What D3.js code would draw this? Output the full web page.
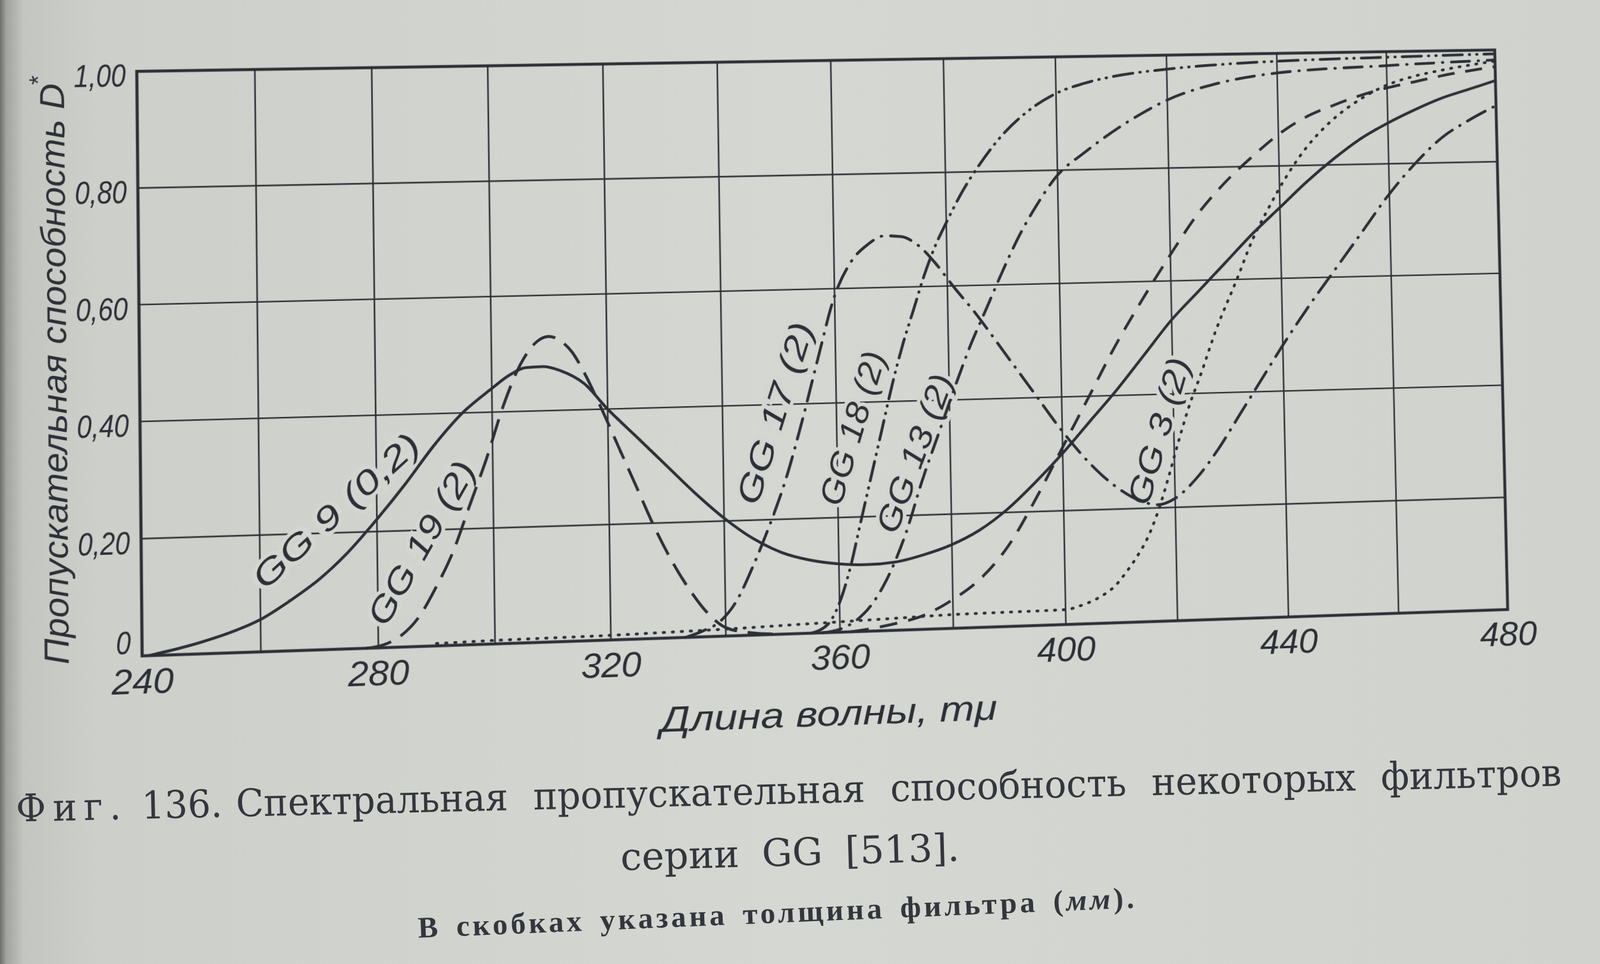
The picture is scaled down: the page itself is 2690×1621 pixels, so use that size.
<!DOCTYPE html>
<html lang="ru">
<head>
<meta charset="utf-8">
<title>Фиг. 136</title>
<script src="https://cdn.jsdelivr.net/npm/d3@7"></script>
<style>
  html, body { margin: 0; padding: 0; background: #d3d6d0; }
  #page { position: relative; width: 2690px; height: 1621px; overflow: hidden; }
  #bg, #chartWrap { position: absolute; left: 0; top: 0; }
  #chartWrap { width: 2690px; height: 1621px; transform-origin: 0 0; }
</style>
</head>
<body>
<div id="page">
  <svg id="bg" width="2690" height="1621"></svg>
  <div id="chartWrap"><svg id="chart" width="2690" height="1621"></svg></div>
</div>
<script>
const ink = "#2c2f36";
const paper = "#d3d6d0";
const sans = "'Liberation Sans', Arial, sans-serif";
const serif = "'DejaVu Serif', 'Liberation Serif', serif";

// axes
const xGrid = d3.range(240, 481, 20);
const xLabels = [240, 280, 320, 360, 400, 440, 480];
const yTicks = [0, 0.2, 0.4, 0.6, 0.8, 1.0];

// GG 9 (0,2) - solid
const gg9Wl = [241, 245, 250, 255, 260, 265, 270, 275, 280, 285, 290, 295, 300, 303, 306, 309, 312, 316, 320, 325,
  330, 335, 340, 345, 350, 355, 360, 365, 370, 375, 380, 385, 390, 395, 400, 405, 410, 415, 420, 425,
  430, 435, 440, 445, 450, 455, 460, 465, 470, 475, 480];
const gg9T = [0, 0.008, 0.02, 0.035, 0.055, 0.085, 0.12, 0.165, 0.22, 0.28, 0.345, 0.40, 0.44, 0.462, 0.475, 0.476, 0.468, 0.445, 0.40, 0.35,
  0.30, 0.25, 0.205, 0.168, 0.142, 0.127, 0.119, 0.116, 0.119, 0.13, 0.146, 0.17, 0.205, 0.25, 0.30, 0.355, 0.41, 0.47, 0.53, 0.58,
  0.63, 0.68, 0.725, 0.77, 0.81, 0.845, 0.872, 0.895, 0.915, 0.93, 0.945];

// GG 19 (2) - long dashes
const gg19Wl = [278, 281, 284, 287, 290, 293, 296, 299, 302, 305, 308, 310, 312, 314, 316, 319, 322, 325, 328, 331, 334, 337, 340, 344, 350];
const gg19T = [0, 0.005, 0.02, 0.05, 0.10, 0.16, 0.24, 0.32, 0.41, 0.48, 0.52, 0.528, 0.52, 0.50, 0.465, 0.40, 0.33, 0.26, 0.19, 0.13, 0.08, 0.04, 0.015, 0.005, 0];

// GG 17 (2) - dash dot
const gg17Wl = [333, 336, 339, 342, 345, 348, 351, 354, 357, 360, 363, 366, 369, 372, 375, 378, 381, 385, 390, 395,
  400, 405, 410, 414, 417, 420, 424, 428, 432, 436, 440, 445, 450, 455, 460, 465, 470, 475, 480];
const gg17T = [0, 0.01, 0.025, 0.06, 0.12, 0.19, 0.27, 0.37, 0.48, 0.585, 0.645, 0.675, 0.69, 0.688, 0.672, 0.64, 0.60, 0.55, 0.48, 0.41,
  0.34, 0.28, 0.235, 0.212, 0.205, 0.215, 0.25, 0.30, 0.36, 0.42, 0.48, 0.55, 0.615, 0.68, 0.745, 0.80, 0.845, 0.875, 0.90];

// GG 18 (2) - dash dot dot
const gg18Wl = [355, 358, 360, 362, 364, 366, 368, 370, 372, 374, 376, 378, 380, 383, 386, 390, 395, 400, 405, 410, 420, 430, 440, 460, 480];
const gg18T = [0, 0.015, 0.05, 0.11, 0.19, 0.27, 0.35, 0.43, 0.50, 0.56, 0.62, 0.67, 0.71, 0.765, 0.81, 0.86, 0.905, 0.935, 0.952, 0.963, 0.975, 0.982, 0.986, 0.99, 0.993];

// GG 13 (2) - dash dot
const gg13Wl = [357, 360, 363, 366, 369, 372, 375, 378, 381, 384, 387, 390, 393, 396, 400, 405, 410, 415, 420, 430, 440, 460, 480];
const gg13T = [0, 0.005, 0.02, 0.05, 0.10, 0.17, 0.26, 0.34, 0.42, 0.495, 0.56, 0.625, 0.685, 0.735, 0.79, 0.83, 0.865, 0.895, 0.92, 0.95, 0.965, 0.975, 0.982];

// unlabelled dashed curve
const dashWl = [362, 366, 370, 375, 380, 385, 390, 395, 400, 405, 410, 415, 420, 425, 430, 435, 440, 445, 450, 455, 460, 465, 470, 480];
const dashT = [0, 0.005, 0.012, 0.025, 0.05, 0.085, 0.14, 0.22, 0.31, 0.40, 0.49, 0.57, 0.645, 0.715, 0.77, 0.815, 0.855, 0.885, 0.905, 0.922, 0.935, 0.945, 0.955, 0.97];

// GG 3 (2) - dotted
const gg3Wl = [290, 300, 310, 320, 330, 340, 350, 360, 370, 380, 390, 400, 403, 406, 409, 411, 413, 415, 417, 419,
  421, 423, 425, 428, 432, 435, 438, 441, 445, 450, 455, 460, 465, 470, 480];
const gg3T = [0.004, 0.006, 0.007, 0.008, 0.01, 0.012, 0.015, 0.018, 0.021, 0.024, 0.025, 0.026, 0.033, 0.045, 0.065, 0.088, 0.115, 0.148, 0.195, 0.255,
  0.32, 0.38, 0.43, 0.51, 0.60, 0.67, 0.725, 0.775, 0.83, 0.88, 0.915, 0.94, 0.955, 0.965, 0.98];

// curve labels, anchored in data units
const labelText = ["GG 9 (0,2)", "GG 19 (2)", "GG 17 (2)", "GG 18 (2)", "GG 13 (2)", "GG 3 (2)"];
const labelWl = [273.1, 287.6, 349.2, 362.8, 373.7, 417.3];
const labelT = [0.238, 0.178, 0.385, 0.355, 0.308, 0.335];

const captionLines = [
  "Спектральная пропускательная способность некоторых фильтров",
  "серии GG [513].",
  "В скобках указана толщина фильтра "
];

const series = [
  { wl: gg9Wl, t: gg9T, dash: null, cap: "butt" },
  { wl: gg19Wl, t: gg19T, dash: "42 18", cap: "butt" },
  { wl: gg17Wl, t: gg17T, dash: "36 15 1 15", cap: "round" },
  { wl: gg18Wl, t: gg18T, dash: "34 12 1 12 1 12", cap: "round" },
  { wl: gg13Wl, t: gg13T, dash: "32 15 1 15", cap: "round" },
  { wl: dashWl, t: dashT, dash: "30 19", cap: "butt" },
  { wl: gg3Wl, t: gg3T, dash: "2 13", cap: "round" }
];

// ---------- paper + caption ----------
const bg = d3.select("#bg");
const lg = bg.append("defs").append("linearGradient").attr("id", "paperGrad");
[[0, "#6c6e6a"], [0.004, "#a2a49f"], [0.015, "#c3c6c0"], [0.06, "#cdd0ca"], [0.5, "#d5d8d2"], [1, "#d0d3cd"]]
  .forEach(([o, c]) => lg.append("stop").attr("offset", o).attr("stop-color", c));
bg.append("rect").attr("width", 2690).attr("height", 1621).attr("fill", "url(#paperGrad)");

// squeeze a caption line to the printed width with a horizontal scale, so its box stays true
function fitLine(sel, cx, cy, angle, width) {
  const w = sel.node().getComputedTextLength();
  sel.attr("transform", `translate(${cx},${cy}) rotate(${angle}) scale(${width / w},1)`);
}

const cap1 = bg.append("text")
  .attr("text-anchor", "middle").attr("dy", "0.35em")
  .attr("font-family", serif).attr("font-size", 64).attr("fill", "#33363c");
cap1.append("tspan").attr("letter-spacing", 12).text("Фиг.");
cap1.append("tspan").attr("word-spacing", 4).text(" 136. ");
cap1.append("tspan").attr("word-spacing", 24).text(captionLines[0]);
fitLine(cap1, 1326, 1329, -1.33, 2600);

const cap2 = bg.append("text")
  .attr("text-anchor", "middle").attr("dy", "0.35em")
  .attr("font-family", serif).attr("font-size", 64).attr("fill", "#33363c")
  .attr("word-spacing", 18)
  .text(captionLines[1]);
fitLine(cap2, 1328, 1433, -1.6, 570);

const cap3 = bg.append("text")
  .attr("text-anchor", "middle").attr("dy", "0.35em")
  .attr("font-family", "'Liberation Serif', serif").attr("font-size", 50).attr("font-weight", "bold").attr("fill", "#33363c")
  .attr("letter-spacing", 5).attr("word-spacing", 8);
cap3.append("tspan").text(captionLines[2]);
cap3.append("tspan").text("(");
cap3.append("tspan").attr("font-style", "italic").text("мм");
cap3.append("tspan").text(").");
fitLine(cap3, 1307, 1534, -2.4, 1210);

// ---------- chart ----------
const chart = d3.select("#chart");
const X0 = 232, X1 = 2530, Y0 = 120, Y1 = 1103;
const x = d3.scaleLinear().domain([240, 480]).range([X0, X1]);
const y = d3.scaleLinear().domain([0, 1]).range([Y1, Y0]);

// grid
chart.append("g")
  .attr("transform", `translate(0,${Y1})`)
  .call(d3.axisBottom(x).tickValues(xGrid).tickSize(-(Y1 - Y0)).tickFormat(""))
  .call(g => g.select(".domain").remove())
  .call(g => g.selectAll("line").attr("stroke", ink).attr("stroke-width", 2.6));
chart.append("g")
  .attr("transform", `translate(${X0},0)`)
  .call(d3.axisLeft(y).tickValues(yTicks).tickSize(-(X1 - X0)).tickFormat(""))
  .call(g => g.select(".domain").remove())
  .call(g => g.selectAll("line").attr("stroke", ink).attr("stroke-width", 2.6));

// tick labels
const xAxis = chart.append("g")
  .attr("transform", `translate(0,${Y1})`)
  .call(d3.axisBottom(x).tickValues(xLabels).tickSize(0).tickPadding(20).tickFormat(d3.format("d")));
xAxis.select(".domain").remove();
xAxis.selectAll("text")
  .attr("font-family", sans).attr("font-style", "italic").attr("font-size", 60).attr("fill", ink);

const fmtY = d => d === 0 ? "0" : d.toFixed(2).replace(".", ",");
const yAxis = chart.append("g")
  .attr("transform", `translate(${X0},0)`)
  .call(d3.axisLeft(y).tickValues(yTicks).tickSize(0).tickPadding(18).tickFormat(fmtY));
yAxis.select(".domain").remove();
yAxis.selectAll("text")
  .attr("font-family", sans).attr("font-style", "italic").attr("font-size", 54).attr("fill", ink)
  .attr("dy", d => d === 0 ? "-0.08em" : "0.46em")
  .each(function () {
    const w = this.getComputedTextLength();
    d3.select(this).attr("textLength", w * 0.8).attr("lengthAdjust", "spacingAndGlyphs");
  });

// axis titles
chart.append("text")
  .attr("transform", `translate(114,${(Y0 + Y1) / 2 + 14}) rotate(-90)`)
  .attr("text-anchor", "middle")
  .attr("font-family", sans).attr("font-style", "italic").attr("font-size", 56).attr("fill", ink)
  .attr("textLength", 975).attr("lengthAdjust", "spacingAndGlyphs")
  .text("Пропускательная способность D");
chart.append("text")
  .attr("transform", "translate(86,132) rotate(-90)")
  .attr("text-anchor", "middle")
  .attr("font-family", sans).attr("font-size", 40).attr("fill", ink)
  .text("*");

chart.append("text")
  .attr("x", x(358)).attr("y", Y1 + 140).attr("dy", "0.3em")
  .attr("text-anchor", "middle")
  .attr("font-family", sans).attr("font-style", "italic").attr("font-size", 62).attr("fill", ink)
  .attr("textLength", 566).attr("lengthAdjust", "spacingAndGlyphs")
  .text("Длина волны, mμ");

// curve labels (drawn before curves, with a paper halo that breaks the grid)
const labelAngle = [-42, -60, -72, -72.6, -69, -72.8];
const labelLen = [350, 305, 322, 272, 285, 262];
chart.append("g").selectAll("text")
  .data(labelText)
  .join("text")
  .attr("transform", (d, i) => `translate(${x(labelWl[i])},${y(labelT[i])}) rotate(${labelAngle[i]})`)
  .attr("text-anchor", "middle").attr("dy", "0.35em")
  .attr("font-family", sans).attr("font-style", "italic").attr("font-size", 56)
  .attr("fill", ink).attr("stroke", paper).attr("stroke-width", 12).attr("paint-order", "stroke")
  .attr("textLength", (d, i) => labelLen[i]).attr("lengthAdjust", "spacingAndGlyphs")
  .text(d => d);

// frame
chart.append("rect")
  .attr("x", X0).attr("y", Y0).attr("width", X1 - X0).attr("height", Y1 - Y0)
  .attr("fill", "none").attr("stroke", ink).attr("stroke-width", 5);

// curves
const line = d3.line().x(d => x(d[0])).y(d => y(d[1])).curve(d3.curveMonotoneX);
chart.append("g").selectAll("path")
  .data(series)
  .join("path")
  .attr("d", s => line(d3.zip(s.wl, s.t)))
  .attr("fill", "none").attr("stroke", ink).attr("stroke-width", 4.8)
  .attr("stroke-dasharray", s => s.dash)
  .attr("stroke-linecap", s => s.cap);

// page is photographed at an angle: map the plot rectangle onto the photographed quadrilateral
function squareToQuad(q) {
  const [p0, p1, p2, p3] = q;
  const dx1 = p1[0] - p2[0], dx2 = p3[0] - p2[0], dx3 = p0[0] - p1[0] + p2[0] - p3[0];
  const dy1 = p1[1] - p2[1], dy2 = p3[1] - p2[1], dy3 = p0[1] - p1[1] + p2[1] - p3[1];
  const den = dx1 * dy2 - dx2 * dy1;
  const g = (dx3 * dy2 - dx2 * dy3) / den;
  const h = (dx1 * dy3 - dx3 * dy1) / den;
  return [
    [p1[0] - p0[0] + g * p1[0], p3[0] - p0[0] + h * p3[0], p0[0]],
    [p1[1] - p0[1] + g * p1[1], p3[1] - p0[1] + h * p3[1], p0[1]],
    [g, h, 1]
  ];
}
const quad = [[230, 120], [2513, 84], [2535, 1025], [239, 1103]];
const Hq = squareToQuad(quad);
const W = X1 - X0, H = Y1 - Y0;
const S = [[1 / W, 0, -X0 / W], [0, 1 / H, -Y0 / H], [0, 0, 1]];
const M = Hq.map(r => [0, 1, 2].map(j => r[0] * S[0][j] + r[1] * S[1][j] + r[2] * S[2][j]));
d3.select("#chartWrap").style("transform",
  `matrix3d(${M[0][0]},${M[1][0]},0,${M[2][0]},${M[0][1]},${M[1][1]},0,${M[2][1]},0,0,1,0,${M[0][2]},${M[1][2]},0,${M[2][2]})`);
</script>
</body>
</html>
